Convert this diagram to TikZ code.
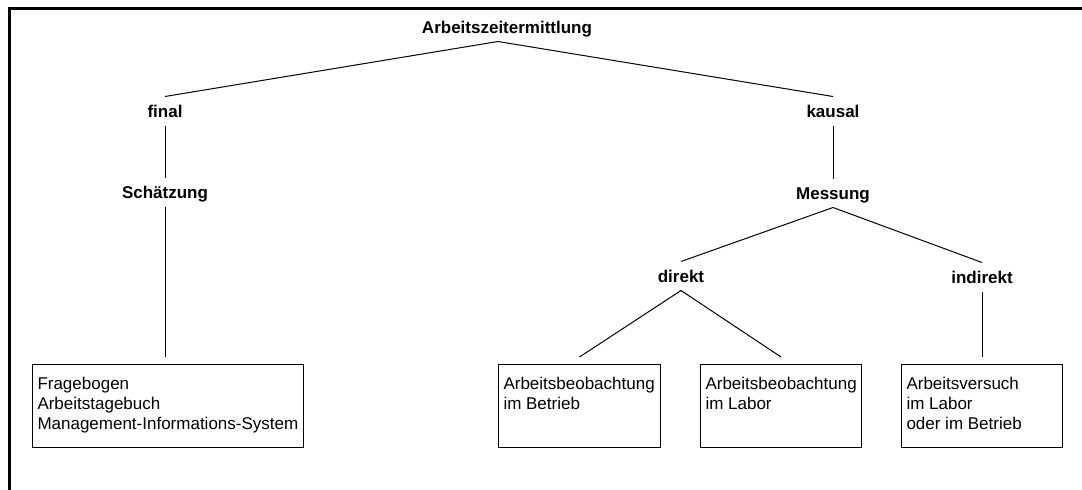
\documentclass[tikz,border=0pt]{standalone}
\usepackage{fontspec}
\setmainfont{Liberation Sans}
\usetikzlibrary{calc}
\tikzset{
  every picture/.style={
    line width=1pt
  },
  term/.style={
    font=\fontsize{17}{20}\selectfont\bfseries,
    anchor=base, text height=12pt, text depth=0pt,
    inner xsep=0pt, inner ysep=8pt
  },
  leaf/.style={
    draw, anchor=north west,
    inner xsep=5pt, inner ysep=12.8pt,
    font=\fontsize{17}{20}\selectfont
  },
  frame/.style={
    line width=2.7pt
  }
}
\newcommand{\leaftext}[2]{\parbox[c][57.4pt][t]{#1}{#2}}

\begin{document}
\begin{tikzpicture}[x=1pt,y=-1pt]
      \useasboundingbox (0,0) rectangle (1082,490);
      \draw[frame] (1082,8.8) -- (9.7,8.8) -- (9.7,490);
      \node[term] (A) at (507,33) {Arbeitszeitermittlung};
      \node[term] (F) at (165,117) {final};
      \node[term] (K) at (833,117) {kausal};
      \node[term] (S) at (165,198) {Schätzung};
      \node[term] (M) at (833,199) {Messung};
      \node[term] (D) at (681,282) {direkt};
      \node[term] (I) at (982,283) {indirekt};
      \node[leaf] (L1) at (32,364) {\leaftext{261pt}{Fragebogen\\Arbeitstagebuch\\Management-Informations-System}};
      \node[leaf] (L2) at (498,364) {\leaftext{152pt}{Arbeitsbeobachtung\\im Betrieb}};
      \node[leaf] (L3) at (700,364) {\leaftext{151pt}{Arbeitsbeobachtung\\im Labor}};
      \node[leaf] (L4) at (901,364) {\leaftext{151pt}{Arbeitsversuch\\im Labor\\oder im Betrieb}};
      \draw ([xshift=-9pt]A.south) -- (F.north);
      \draw ([xshift=-9pt]A.south) -- (K.north);
      \draw (F.south) -- (S.north);
      \draw (S.south) -- ([yshift=7pt]S.south |- L1.north);
      \draw (K.south) -- (M.north);
      \draw (M.south) -- (D.north);
      \draw (M.south) -- (I.north);
      \draw (D.south) -- ([yshift=7pt]L2.north);
      \draw (D.south) -- ([yshift=7pt]L3.north);
      \draw (I.south) -- ([yshift=7pt]L4.north);
\end{tikzpicture}
\end{document}
